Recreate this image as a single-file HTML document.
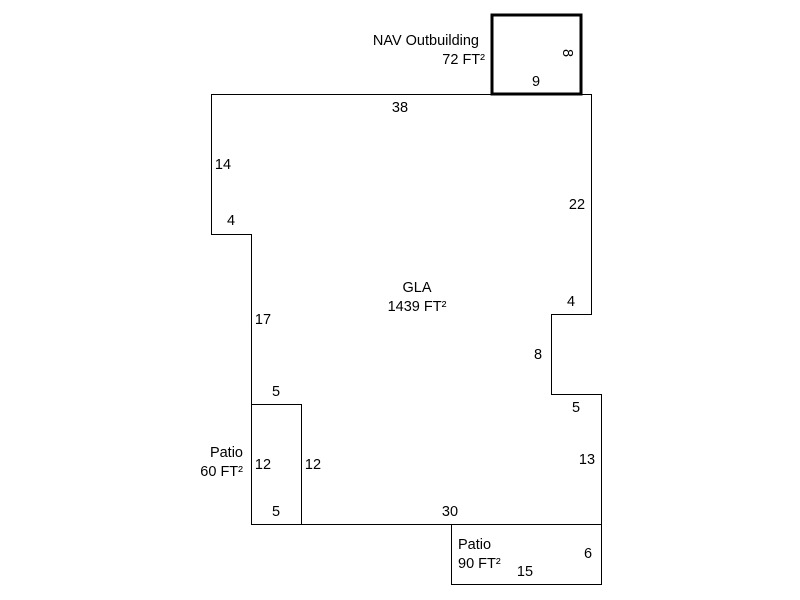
<!DOCTYPE html>
<html><head><meta charset="utf-8"><style>
html,body{margin:0;padding:0;background:#fff;width:800px;height:600px;overflow:hidden}
text{font-family:"Liberation Sans",Arial,sans-serif;font-size:14.5px;fill:#000}
</style></head><body>
<svg width="800" height="600" xmlns="http://www.w3.org/2000/svg">
<g fill="none" stroke="#000" stroke-width="1" shape-rendering="crispEdges">
<polygon points="211.5,94.5 591.5,94.5 591.5,314.5 551.5,314.5 551.5,394.5 601.5,394.5 601.5,524.5 251.5,524.5 251.5,234.5 211.5,234.5"/>
<rect x="251.5" y="404.5" width="50" height="120"/>
<rect x="451.5" y="524.5" width="150" height="60"/>
<rect x="492" y="15" width="89" height="79" stroke-width="3"/>
</g>
<text x="479" y="45" text-anchor="end">NAV Outbuilding</text>
<text x="485" y="64" text-anchor="end">72 FT²</text>
<text x="536" y="86" text-anchor="middle">9</text>
<text x="0" y="0" text-anchor="middle" transform="translate(563,53) rotate(90)">8</text>
<text x="400" y="112" text-anchor="middle">38</text>
<text x="223" y="169" text-anchor="middle">14</text>
<text x="231" y="225" text-anchor="middle">4</text>
<text x="577" y="209" text-anchor="middle">22</text>
<text x="571" y="306" text-anchor="middle">4</text>
<text x="538" y="359" text-anchor="middle">8</text>
<text x="576" y="412" text-anchor="middle">5</text>
<text x="587" y="464" text-anchor="middle">13</text>
<text x="417" y="292" text-anchor="middle">GLA</text>
<text x="417" y="311" text-anchor="middle">1439 FT²</text>
<text x="263" y="324" text-anchor="middle">17</text>
<text x="276" y="396" text-anchor="middle">5</text>
<text x="243" y="457" text-anchor="end">Patio</text>
<text x="243" y="476" text-anchor="end">60 FT²</text>
<text x="263" y="469" text-anchor="middle">12</text>
<text x="313" y="469" text-anchor="middle">12</text>
<text x="276" y="516" text-anchor="middle">5</text>
<text x="450" y="516" text-anchor="middle">30</text>
<text x="458" y="549">Patio</text>
<text x="458" y="568">90 FT²</text>
<text x="588" y="558" text-anchor="middle">6</text>
<text x="525" y="576" text-anchor="middle">15</text>
</svg>
</body></html>
